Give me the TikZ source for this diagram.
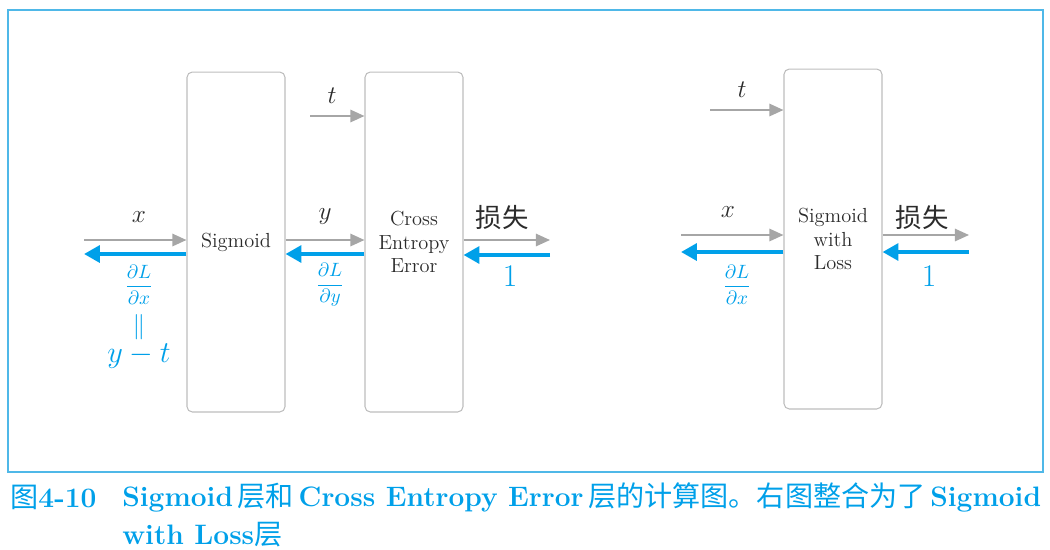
\documentclass[tikz,border=0pt]{standalone}
\usepackage{fontspec}
\newfontfamily\cjk{Noto Sans CJK SC}
\usetikzlibrary{arrows.meta, positioning}

\begin{document}
\begin{tikzpicture}[x=0.02cm, y=-0.02cm]
    % Define colours
    \definecolor{lineBlue}{HTML}{00A0E9}
    \definecolor{lineGrey}{HTML}{A6A6A6}
    \definecolor{boxGrey}{HTML}{BDBDBD}
    \definecolor{textGrey}{HTML}{2B2B2B}
    \definecolor{frameBlue}{HTML}{4FB8E8}

    \tikzset{
        layer/.style={draw=boxGrey, line width=0.6pt, rounded corners=3pt,
            minimum width=1.96cm, minimum height=6.8cm, align=center,
            inner sep=0pt, text=textGrey, font=\fontsize{11.6}{13.6}\selectfont},
        fwd/.style={lineGrey, line width=1.1pt, -{Triangle[length=8pt, width=7pt]}},
        bwd/.style={lineBlue, line width=2.2pt, -{Triangle[length=9pt, width=9.5pt]}},
        lbl/.style={text=textGrey, font=\fontsize{15}{17}\selectfont},
        grad/.style={text=lineBlue, font=\fontsize{11}{13}\selectfont},
        one/.style={text=lineBlue, font=\fontsize{18}{20}\selectfont},
        caption/.style={anchor=west, inner sep=0pt, text=lineBlue,
            font=\fontsize{16}{18}\selectfont\bfseries},
    }

    % Fix the page size
    \useasboundingbox (0,0) rectangle (1050,549);

    % Draw frame
    \draw[frameBlue, line width=0.6pt] (8,10) rectangle (1043,472);

    % Draw the layers
    \node[layer] (sig) at (236,242) {Sigmoid};
    \node[layer] (cee) at (414,242) {Cross\\Entropy\\Error};
    \node[layer] (swl) at (833,239) {Sigmoid\\with\\Loss};

    % Define the free ends of the arrows
    \coordinate (xin)   at (84,240);
    \coordinate (xout)  at (84,254);
    \coordinate (tin)   at (310,116);
    \coordinate (lout)  at (550,240);
    \coordinate (lin)   at (550,255);
    \coordinate (xinR)  at (681,235);
    \coordinate (xoutR) at (681,252);
    \coordinate (tinR)  at (710,110);
    \coordinate (loutR) at (969,235);
    \coordinate (linR)  at (969,252);

    % Left graph: forward (grey) and backward (blue)
    \draw[fwd] (xin) -- (xin -| sig.west);
    \draw[bwd] (xout -| sig.west) -- (xout);
    \draw[fwd] (xin -| sig.east) -- (xin -| cee.west);
    \draw[bwd] (xout -| cee.west) -- (xout -| sig.east);
    \draw[fwd] (tin) -- (tin -| cee.west);
    \draw[fwd] (lout -| cee.east) -- (lout);
    \draw[bwd] (lin) -- (lin -| cee.east);

    % Right graph
    \draw[fwd] (xinR) -- (xinR -| swl.west);
    \draw[bwd] (xoutR -| swl.west) -- (xoutR);
    \draw[fwd] (tinR) -- (tinR -| swl.west);
    \draw[fwd] (loutR -| swl.east) -- (loutR);
    \draw[bwd] (linR) -- (linR -| swl.east);

    % Labels of the left graph
    \node[lbl] (xlab) at (139,217) {$x$};
    \node[lbl] (ylab) at (325,217) {$y$};
    \node[lbl] (tlab) at (332,96) {$t$};
    \node[lbl] (llab) at (502,218) {\cjk 损失};
    \node[grad] (dx) at (139,285) {$\displaystyle\frac{\partial L}{\partial x}$};
    \node[grad, font=\fontsize{15}{17}\selectfont] (dxeq) at (139,327) {$\|$};
    \node[grad, font=\fontsize{16}{18}\selectfont] (yt) at (139,356) {$y-t$};
    \node[grad] (dy) at (330,285) {$\displaystyle\frac{\partial L}{\partial y}$};
    \node[one] (onel) at (510,276) {1};

    % Labels of the right graph
    \node[lbl] (xlabR) at (728,212) {$x$};
    \node[lbl] (tlabR) at (742,90) {$t$};
    \node[lbl] (llabR) at (922,218) {\cjk 损失};
    \node[grad] (dxR) at (737,285) {$\displaystyle\frac{\partial L}{\partial x}$};
    \node[one] (oneR) at (929,276) {1};

    % Caption
    \node[caption] (capnum) at (10,497) {{\mdseries\cjk 图}4-10};
    \node[caption] (cap1) at (122,497)
        {Sigmoid\,{\mdseries\cjk 层和}\,Cross Entropy Error\,{\mdseries\cjk 层的计算图。右图整合为了}\,Sigmoid};
    \node[caption] (cap2) at (122,535) {with Loss{\mdseries\cjk 层}};
\end{tikzpicture}
\end{document}
